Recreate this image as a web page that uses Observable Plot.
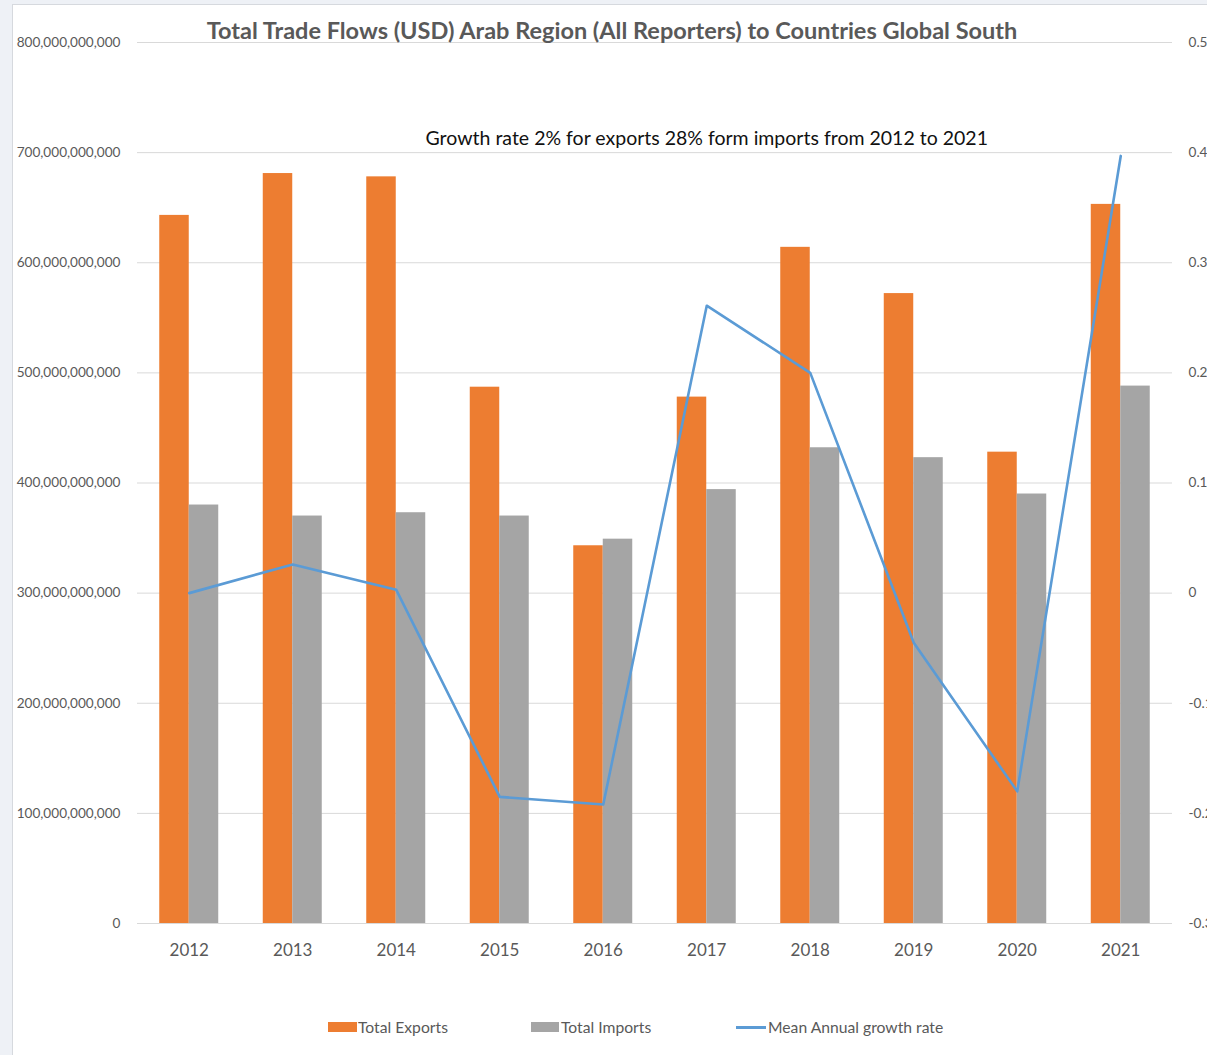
<!DOCTYPE html>
<html><head><meta charset="utf-8">
<script src="https://cdn.jsdelivr.net/npm/d3@7"></script>
<script src="https://cdn.jsdelivr.net/npm/@observablehq/plot@0.6"></script>
<style>
body{margin:0;background:#eef1f6;font-family:Lato,"Open Sans",sans-serif;}
#wrap{position:relative;width:1207px;height:1055px;overflow:hidden;}
#panel{position:absolute;left:12px;top:4px;width:1210px;height:1060px;background:#fff;border:1px solid #d6d9de;}
#title{position:absolute;top:16px;left:0;width:1224px;text-align:center;font-weight:bold;font-size:23.5px;color:#595959;white-space:nowrap;}
#chart{position:absolute;left:0;top:0;}
.lg{position:absolute;top:1017px;font-size:15.7px;color:#595959;white-space:nowrap;line-height:20px;}
.sw{position:absolute;top:1022px;}
</style>
</head><body>
<div id="wrap">
<div id="panel"></div>
<div id="chart"></div>
<div id="title">Total Trade Flows (USD) Arab Region (All Reporters) to Countries Global South</div>
<div class="sw" style="left:328px;width:29px;height:10px;background:#ED7D31"></div>
<div class="lg" style="left:358px">Total Exports</div>
<div class="sw" style="left:531px;width:28px;height:10px;background:#A5A5A5"></div>
<div class="lg" style="left:561px">Total Imports</div>
<div class="sw" style="left:736px;top:1026px;width:30px;height:3px;background:#5B9BD5"></div>
<div class="lg" style="left:768px">Mean Annual growth rate</div>
</div>
<script>
const years = ["2012","2013","2014","2015","2016","2017","2018","2019","2020","2021"];
const exportsUSD = [643e9, 681e9, 678e9, 487e9, 343e9, 478e9, 614e9, 572e9, 428e9, 653e9];
const importsUSD = [380e9, 370e9, 373e9, 370e9, 349e9, 394e9, 432e9, 423e9, 390e9, 488e9];
const growthRate = [0.0, 0.026, 0.003, -0.185, -0.192, 0.261, 0.2, -0.045, -0.18, 0.397];
const leftTicks = [0,100e9,200e9,300e9,400e9,500e9,600e9,700e9,800e9];
const rightTicks = [-0.3,-0.2,-0.1,0,0.1,0.2,0.3,0.4,0.5];
const annotation = "Growth rate 2% for exports 28% form imports from 2012 to 2021";

// map right-axis (growth) domain onto the left-axis (USD) domain
const g2v = d3.scaleLinear().domain([-0.3, 0.5]).range([0, 800e9]);

const rows = years.map((y,i)=>({year:y, exp:exportsUSD[i], imp:importsUSD[i], g:g2v(growthRate[i])}));

const chart = Plot.plot({
  width: 1207,
  height: 1000,
  marginTop: 42,
  marginBottom: 77,
  marginLeft: 137,
  marginRight: 35,
  style: {fontFamily: "Lato, 'Open Sans', sans-serif", background: "transparent", overflow: "visible"},
  x: {type: "band", domain: years, paddingInner: 0.43, paddingOuter: 0.215, round: false, label: null},
  y: {domain: [0, 800e9], label: null},
  marks: [
    Plot.gridY(leftTicks, {stroke: "#d9d9d9", strokeOpacity: 1}),
    Plot.barY(rows, {x: "year", y: "exp", fill: "#ED7D31", insetRight: 29.5}),
    Plot.barY(rows, {x: "year", y: "imp", fill: "#A5A5A5", insetLeft: 29.5}),
    Plot.line(rows, {x: "year", y: "g", stroke: "#5B9BD5", strokeWidth: 2.6}),
    Plot.axisY(leftTicks, {anchor: "left", tickSize: 0, tickPadding: 17, tickFormat: d3.format(","), fontSize: 13.6, fill: "#595959", label: null}),
    Plot.axisY(rightTicks.map(g2v), {anchor: "right", tickSize: 0, tickPadding: 16, tickFormat: d => String(+g2v.invert(d).toFixed(1)), fontSize: 13.6, fill: "#595959", label: null}),
    Plot.axisX({tickSize: 0, tickPadding: 20, fontSize: 17, fill: "#595959", label: null}),
    Plot.text([annotation], {x: () => "2017", y: () => 707e9, text: d => d, fontSize: 19.5, fill: "#111", lineAnchor: "bottom"})
  ]
});
document.getElementById("chart").appendChild(chart);
</script>
</body></html>
